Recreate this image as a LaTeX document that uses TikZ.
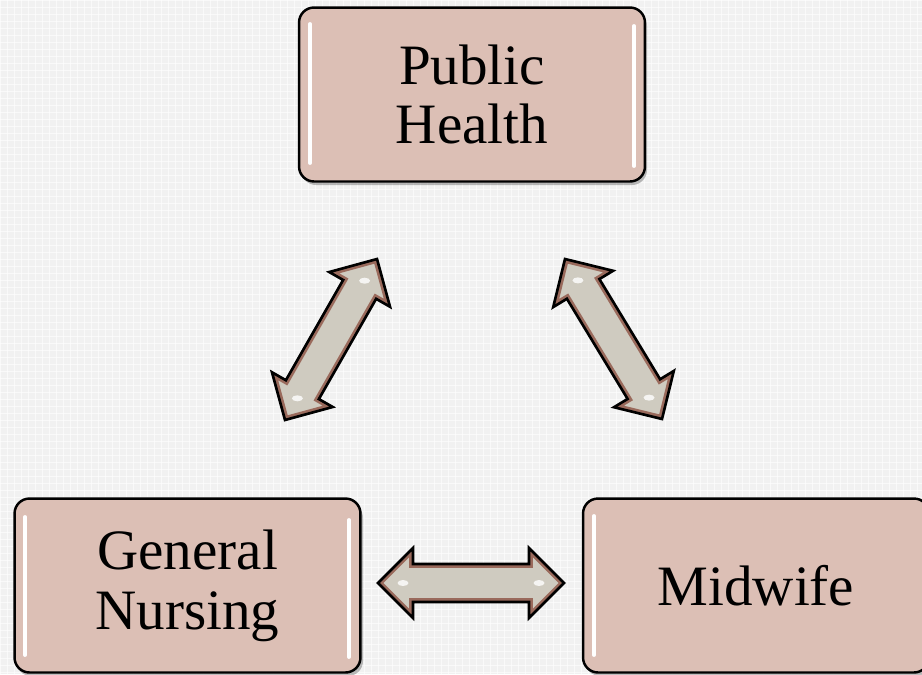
\documentclass[tikz,border=0pt]{standalone}
\usepackage{fontspec}
\setmainfont{Liberation Serif}
\usetikzlibrary{calc}
\definecolor{bgc}{HTML}{F1F1F1}
\definecolor{boxfill}{HTML}{DCBFB5}
\definecolor{arrfill}{HTML}{CFCBC0}
\definecolor{arrbrown}{HTML}{9A6A5C}
\tikzset{
  box/.style={draw=black, line width=1.4pt, fill=boxfill, rounded corners=0.3cm,
    minimum width=6.92cm, minimum height=3.48cm, inner sep=0pt, align=center,
    font=\fontsize{32.5}{34}\selectfont},
  shadowbox/.style={fill=black, opacity=0.25, rounded corners=0.3cm},
  gloss/.style={draw=white, line width=2.2pt, line cap=round},
  arrowbody/.style={fill=arrfill},
  arrowinner/.style={draw=arrbrown, line width=4.4pt, line join=miter},
  arrowouter/.style={draw=black, line width=1.5pt, line join=miter},
  spot/.style={fill=white, opacity=0.8},
}
\newcommand\arrowpath[2]{%
  (#1) -- ($(ha)!0.7cm!90:(#2)$) -- ($(ha)!0.38cm!90:(#2)$) --
  ($(hb)!0.38cm!-90:(#1)$) -- ($(hb)!0.7cm!-90:(#1)$) -- (#2) --
  ($(hb)!0.7cm!90:(#1)$) -- ($(hb)!0.38cm!90:(#1)$) --
  ($(ha)!0.38cm!-90:(#2)$) -- ($(ha)!0.7cm!-90:(#2)$) -- cycle}
\newcommand\dblarrow[2]{%
  \coordinate (ha) at ($(#1)!0.7cm!(#2)$);
  \coordinate (hb) at ($(#2)!0.7cm!(#1)$);
  \fill[arrowbody] \arrowpath{#1}{#2};
  \begin{scope}
    \clip \arrowpath{#1}{#2};
    \draw[arrowinner] \arrowpath{#1}{#2};
  \end{scope}
  \draw[arrowouter] \arrowpath{#1}{#2};
  \fill[spot] ($(#1)!0.5cm!(#2)$) ellipse [x radius=0.11cm, y radius=0.06cm];
  \fill[spot] ($(#2)!0.5cm!(#1)$) ellipse [x radius=0.11cm, y radius=0.06cm];
}
\begin{document}
\begin{tikzpicture}[x=0.02cm, y=-0.02cm]
  \useasboundingbox (0,0) rectangle (922,674);
  \fill[bgc] (0,0) rectangle (922,674);
  \foreach \i in {0,7,...,922} \draw[white, line width=0.5pt, opacity=0.6] (\i,0) -- (\i,674);
  \foreach \j in {0,7,...,674} \draw[white, line width=0.5pt, opacity=0.6] (0,\j) -- (922,\j);

  % shadows
  \fill[shadowbox] (301,11) rectangle (647,185);
  \fill[shadowbox] (16,503) rectangle (363,676);
  \fill[shadowbox] (585,502) rectangle (931,676);

  % boxes
  \node[box] (ph) at (472,94.5) {Public\\Health};
  \node[box] (gn) at (187.5,585.5) {General\\Nursing};
  \node[box] (mw) at (756,585.5) {Midwife};

  % gloss highlights
  \draw[gloss] (310,24) -- (310,163);
  \draw[gloss] (634,26) -- (634,166);
  \draw[gloss] (25,517) -- (25,655);
  \draw[gloss] (349,520) -- (349,657);
  \draw[gloss] (594,516) -- (594,655);

  % arrow ends
  \coordinate (l1) at (285,420);
  \coordinate (l2) at (377,259);
  \coordinate (r1) at (565,259);
  \coordinate (r2) at (662,419);
  \coordinate (h1) at (378,583);
  \coordinate (h2) at (564,583);

  \dblarrow{l1}{l2}
  \dblarrow{r1}{r2}
  \dblarrow{h1}{h2}
\end{tikzpicture}
\end{document}
